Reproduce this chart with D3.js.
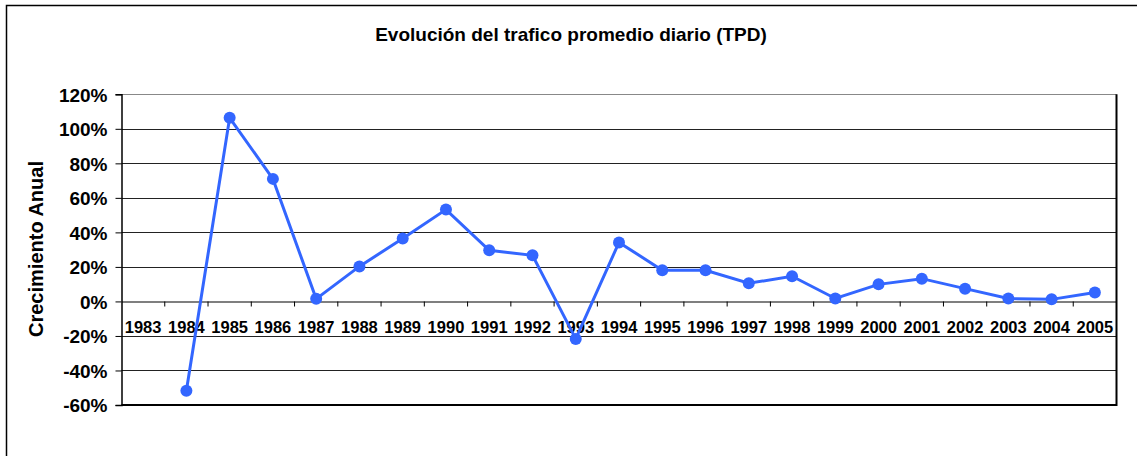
<!DOCTYPE html>
<html>
<head>
<meta charset="utf-8">
<script src="https://cdn.jsdelivr.net/npm/d3@7"></script>
<style>
  body { margin: 0; background: #fff; }
  svg text { font-family: "Liberation Sans", Arial, sans-serif; font-weight: bold; fill: #000; }
</style>
</head>
<body>
<div id="chart"></div>
<script>
// data
const years = ["1983","1984","1985","1986","1987","1988","1989","1990","1991","1992","1993","1994",
               "1995","1996","1997","1998","1999","2000","2001","2002","2003","2004","2005"];
const growth = [null,-51.7,106.4,71,1.5,20.3,36.4,53.2,29.6,26.7,-21.7,34.2,
                18.1,18.1,10.5,14.6,1.7,9.9,13.2,7.4,1.7,1.2,5.2];
const yTicks = [-60,-40,-20,0,20,40,60,80,100,120];
const chartTitle = "Evolución del trafico promedio diario (TPD)";
const yTitle = "Crecimiento Anual";

const W = 1137, H = 456;
const plot = {left: 121.5, right: 1116.5, top: 94.3, bottom: 405};

const svg = d3.select("#chart").append("svg")
  .attr("width", W).attr("height", H);

// outer chart border (continues past right/bottom edge)
svg.append("rect")
  .attr("x", 6.5).attr("y", 5.5)
  .attr("width", 1200).attr("height", 600)
  .attr("fill", "#fff").attr("stroke", "#000").attr("stroke-width", 1.5);

const x = d3.scaleBand().domain(years).range([plot.left, plot.right]);
const y = d3.scaleLinear().domain([-60, 120]).range([plot.bottom, plot.top]);

// gridlines
svg.append("g").selectAll("line")
  .data(yTicks.filter(d => d !== 0 && d !== -60))
  .join("line")
  .attr("x1", plot.left).attr("x2", plot.right)
  .attr("y1", d => Math.round(y(d)) + 0.5).attr("y2", d => Math.round(y(d)) + 0.5)
  .attr("stroke", d => d === 120 ? "#888" : "#222").attr("stroke-width", 1);

// plot border right + bottom
svg.append("path")
  .attr("d", `M${plot.left},${plot.bottom}H${plot.right}V${plot.top}`)
  .attr("fill", "none").attr("stroke", "#000").attr("stroke-width", 2);

// y axis
const yAxis = svg.append("g")
  .attr("transform", `translate(${plot.left},0)`)
  .call(d3.axisLeft(y).tickValues(yTicks).tickSize(6).tickPadding(8).tickFormat(d => d + "%"));
yAxis.select(".domain").attr("stroke", "#000").attr("stroke-width", 1.5);
yAxis.selectAll("text").style("font-size", "19px").attr("dy", "0.36em");

// x axis on the 0% line
const xAxis = svg.append("g")
  .attr("transform", `translate(0,${Math.round(y(0)) + 0.5})`)
  .call(d3.axisBottom(x).tickSize(0).tickPadding(20));
xAxis.select(".domain").attr("stroke", "#000").attr("stroke-width", 1.2);
xAxis.selectAll("text").style("font-size", "16.5px");
// category boundary ticks
xAxis.append("g").selectAll("line")
  .data(years.slice(1))
  .join("line")
  .attr("x1", d => x(d)).attr("x2", d => x(d))
  .attr("y1", 0).attr("y2", 5)
  .attr("stroke", "#000");

// line + markers
const pts = years.map((yr, i) => ({yr, v: growth[i]})).filter(d => d.v !== null);
svg.append("path")
  .datum(pts)
  .attr("fill", "none")
  .attr("stroke", "#3366ff")
  .attr("stroke-width", 3)
  .attr("d", d3.line().x(d => x(d.yr) + x.bandwidth() / 2).y(d => y(d.v)));
svg.append("g").selectAll("circle")
  .data(pts)
  .join("circle")
  .attr("cx", d => x(d.yr) + x.bandwidth() / 2)
  .attr("cy", d => y(d.v))
  .attr("r", 6)
  .attr("fill", "#3366ff");

// titles
svg.append("text")
  .attr("x", 571).attr("y", 41)
  .attr("text-anchor", "middle")
  .style("font-size", "19px")
  .text(chartTitle);
svg.append("text")
  .attr("transform", "translate(43,249) rotate(-90)")
  .attr("text-anchor", "middle")
  .style("font-size", "20px")
  .text(yTitle);
</script>
</body>
</html>
